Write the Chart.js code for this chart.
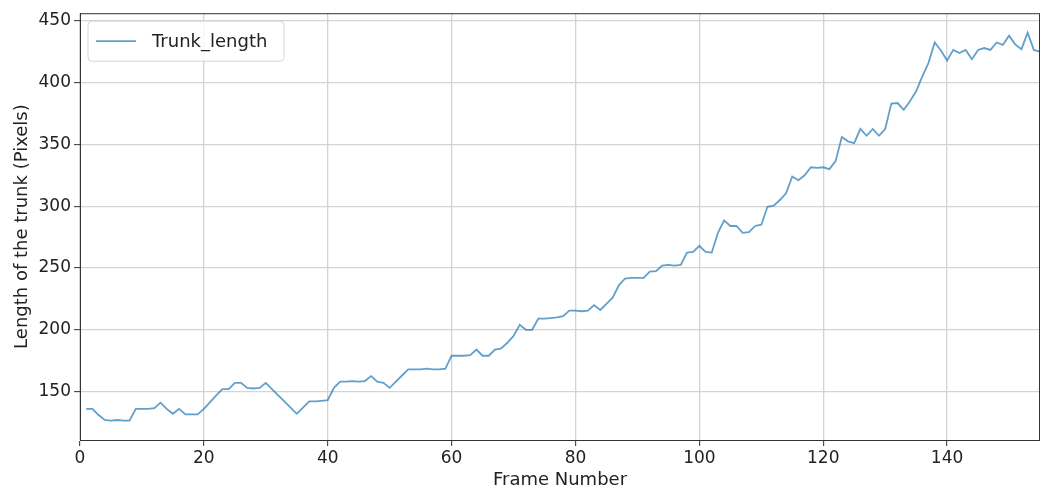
<!DOCTYPE html>
<html>
<head>
<meta charset="utf-8">
<script src="https://cdn.jsdelivr.net/npm/chart.js@4.4.1/dist/chart.umd.min.js"></script>
<style>
  html, body { margin: 0; padding: 0; background: #fff; }
  #wrap { width: 1040px; height: 491px; }
</style>
</head>
<body>
<div id="wrap"><canvas id="myChart" width="1040" height="491"></canvas></div>
<script>
// frames 1..155
const frames = [];
for (let i = 1; i <= 155; i++) frames.push(i);

const trunkLength = [
  136, 136, 131, 127, 126.5, 127, 126.5, 126.5, 136, 136,
  136, 136.5, 141, 136, 132, 136, 131.5, 131.5, 131.5, 136,
  141.5, 147, 152, 152, 157, 157, 153, 152.5, 153, 157,
  152, 147, 142, 137, 132, 137, 142, 142, 142.5, 143,
  153, 158, 158, 158.5, 158, 158.5, 162.5, 158, 157, 153,
  158, 163, 168, 168, 168, 168.5, 168, 168, 168.5, 179,
  179, 179, 179.5, 184, 179, 179, 184, 185, 189.5, 195,
  204, 200, 200, 209, 209, 209.5, 210, 211, 215.5, 215.5,
  215, 215.5, 220, 216, 221, 226, 236, 241.5, 242, 242,
  242, 247, 247.5, 252, 252.5, 252, 252.5, 262.5, 263, 268,
  263, 262.5, 278.5, 288.5, 284, 284, 278.5, 279, 284, 285,
  299.5, 300.5, 305, 310.5, 324, 321, 325, 331.5, 331, 331.5,
  330, 336.5, 356, 352.5, 351, 362.5, 357, 362.5, 357, 362.5,
  383, 383.5, 378, 385, 393, 405, 416, 432.5, 426, 418,
  426.5, 424, 426.5, 419, 426.5, 428, 426.5, 432.5, 430.5, 438,
  431, 427, 440.5, 426.5, 425
];

const xTicks = [0, 20, 40, 60, 80, 100, 120, 140];
const yTicks = [150, 200, 250, 300, 350, 400, 450];

const seriesName = 'Trunk_length';
const xTitle = 'Frame Number';
const yTitle = 'Length of the trunk (Pixels)';
const lineColor = 'rgba(31, 119, 180, 0.7)';
const fontFamily = '"DejaVu Sans", sans-serif';

function fixedTicks(values) {
  return function (scale) {
    scale.ticks = values.map(v => ({ value: v }));
  };
}

// matplotlib-like frame and legend box
const framePlugin = {
  id: 'frame',
  afterDraw(chart) {
    const { ctx, chartArea: a } = chart;
    ctx.save();
    ctx.strokeStyle = '#333';
    ctx.lineWidth = 1;
    ctx.strokeRect(a.left + 0.5, a.top + 0.5, a.right - a.left - 1, a.bottom - a.top);

    // legend
    const x = a.left + 8, y = a.top + 8, w = 196, h = 40, r = 4;
    ctx.beginPath();
    ctx.roundRect(x, y, w, h, r);
    ctx.fillStyle = 'rgba(255,255,255,0.8)';
    ctx.fill();
    ctx.strokeStyle = '#d6d6d6';
    ctx.stroke();
    ctx.beginPath();
    ctx.moveTo(x + 8, y + h / 2);
    ctx.lineTo(x + 48, y + h / 2);
    ctx.strokeStyle = lineColor;
    ctx.lineWidth = 1.8;
    ctx.stroke();
    ctx.fillStyle = '#222';
    ctx.font = '18px ' + fontFamily;
    ctx.textBaseline = 'middle';
    ctx.fillText(seriesName, x + 64, y + h / 2 + 1);
    ctx.restore();
  }
};

const ctx = document.getElementById('myChart').getContext('2d');
const myChart = new Chart(ctx, {
  type: 'line',
  data: {
    datasets: [{
      label: seriesName,
      data: frames.map((f, i) => ({ x: f, y: trunkLength[i] })),
      borderColor: lineColor,
      borderWidth: 1.8,
      pointRadius: 0,
      tension: 0,
      fill: false
    }]
  },
  options: {
    responsive: false,
    animation: false,
    layout: { padding: { top: 12, right: 0, left: 12, bottom: 0 } },
    plugins: {
      legend: { display: false },
      tooltip: { enabled: false }
    },
    scales: {
      x: {
        type: 'linear',
        min: 0,
        max: 155,
        afterBuildTicks: fixedTicks(xTicks),
        afterFit(scale) { scale.height = 51; },
        ticks: { color: '#222', font: { family: fontFamily, size: 17 }, padding: 2, maxRotation: 0 },
        grid: { color: '#d4d4d4', lineWidth: 1.3, tickLength: 6, tickColor: '#333', tickWidth: 1 },
        border: { display: true, color: '#333', width: 1 },
        title: { display: true, text: xTitle, color: '#222', font: { family: fontFamily, size: 18 }, padding: { top: 0, bottom: 0 } }
      },
      y: {
        min: 110.8,
        max: 456.2,
        afterBuildTicks: fixedTicks(yTicks),
        afterFit(scale) { scale.width = 68; },
        ticks: { color: '#222', font: { family: fontFamily, size: 17 }, padding: 3 },
        grid: { color: '#d4d4d4', lineWidth: 1.3, tickLength: 6, tickColor: '#333', tickWidth: 1 },
        border: { display: true, color: '#333', width: 1 },
        title: { display: true, text: yTitle, color: '#222', font: { family: fontFamily, size: 18 }, padding: { top: 0, bottom: 2 } }
      }
    }
  },
  plugins: [framePlugin]
});
</script>
</body>
</html>
